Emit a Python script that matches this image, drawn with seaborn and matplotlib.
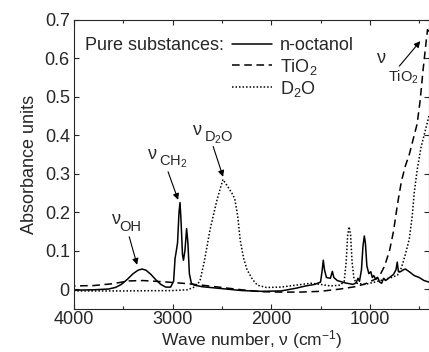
import seaborn as sns
from matplotlib import pyplot as plt
from matplotlib.ticker import FixedLocator, FixedFormatter
import pandas as pd

# Spectra (wave number in cm-1, absorbance)
oct_wn = [4000, 3800, 3650, 3580, 3520, 3460, 3400, 3350, 3310, 3270, 3220, 3170, 3120,
          3070, 3020, 2990, 2975, 2965, 2950, 2935, 2925, 2915, 2900, 2890, 2875, 2858,
          2845, 2830, 2810, 2780, 2700, 2500, 2300, 2100, 1900, 1750, 1650, 1560, 1500,
          1485, 1472, 1460, 1440, 1400, 1380, 1365, 1330, 1250, 1170, 1140, 1120, 1105,
          1085, 1070, 1056, 1045, 1030, 1010, 990, 975, 960, 940, 920, 900, 880, 860,
          840, 800, 760, 735, 722, 710, 690, 660, 640, 600, 550, 500, 450, 400]
oct_abs = [-0.003, -0.002, 0.0, 0.004, 0.012, 0.025, 0.040, 0.049, 0.052, 0.049, 0.038,
           0.024, 0.012, 0.005, 0.005, 0.02, 0.08, 0.095, 0.12, 0.20, 0.225, 0.18, 0.09,
           0.075, 0.10, 0.157, 0.12, 0.04, 0.015, 0.01, 0.006, 0.001, -0.004, -0.006,
           -0.005, 0.002, 0.008, 0.012, 0.018, 0.045, 0.075, 0.05, 0.03, 0.028, 0.046,
           0.03, 0.022, 0.016, 0.012, 0.016, 0.028, 0.02, 0.05, 0.11, 0.138, 0.12, 0.06,
           0.04, 0.045, 0.03, 0.035, 0.025, 0.03, 0.018, 0.015, 0.028, 0.022, 0.03,
           0.038, 0.05, 0.07, 0.045, 0.045, 0.05, 0.052, 0.045, 0.035, 0.03, 0.022, 0.018]

tio2_wn = [4000, 3800, 3600, 3450, 3300, 3100, 2900, 2700, 2500, 2300, 2100, 1900, 1700,
           1500, 1300, 1150, 1050, 950, 900, 850, 800, 760, 720, 680, 640, 600, 560, 520,
           490, 460, 435, 415, 400]
tio2_abs = [0.008, 0.009, 0.014, 0.021, 0.022, 0.019, 0.015, 0.01, 0.004, -0.002, -0.007,
            -0.008, -0.008, -0.006, 0.0, 0.006, 0.013, 0.025, 0.035, 0.06, 0.10, 0.15,
            0.22, 0.28, 0.32, 0.35, 0.39, 0.43, 0.49, 0.57, 0.63, 0.675, 0.67]

d2o_wn = [4000, 3500, 3000, 2850, 2780, 2740, 2720, 2680, 2620, 2550, 2490, 2450, 2400,
          2370, 2340, 2315, 2280, 2245, 2190, 2140, 2050, 1900, 1750, 1600, 1500, 1400,
          1300, 1260, 1240, 1225, 1210, 1195, 1180, 1160, 1130, 1050, 950, 850, 780, 720,
          680, 640, 600, 570, 550, 520, 480, 440, 400]
d2o_abs = [-0.005, -0.005, -0.004, -0.002, 0.005, 0.015, 0.024, 0.07, 0.155, 0.232, 0.285,
           0.27, 0.25, 0.235, 0.19, 0.128, 0.08, 0.05, 0.025, 0.01, 0.004, 0.005, 0.01,
           0.015, 0.012, 0.008, 0.01, 0.02, 0.07, 0.14, 0.162, 0.14, 0.07, 0.025, 0.015,
           0.012, 0.018, 0.025, 0.03, 0.036, 0.055, 0.09, 0.13, 0.19, 0.25, 0.31, 0.37,
           0.41, 0.45]

y_ticks = [0, 0.1, 0.2, 0.3, 0.4, 0.5, 0.6, 0.7]
y_labels = ["0", "0.1", "0.2", "0.3", "0.4", "0.5", "0.6", "0.7"]

# band labels: subscript, nu position, subscript position, arrow start, arrow tip
bands = [
    ("OH", (3614, 0.170), (3540, 0.151), (3440, 0.136), (3360, 0.063)),
    ("CH$_2$", (3249, 0.339), (3140, 0.321), (3046, 0.305), (2944, 0.232)),
    ("D$_2$O", (2792, 0.401), (2685, 0.384), (2589, 0.371), (2488, 0.292)),
    ("TiO$_2$", (925, 0.587), (820, 0.540), (701, 0.580), (488, 0.645)),
]

FS = 13

sns.set_style("ticks")
plt.rcParams['font.family'] = ['Liberation Sans', 'DejaVu Sans']
plt.rcParams['mathtext.fontset'] = 'custom'
plt.rcParams['mathtext.rm'] = 'Liberation Sans'
plt.rcParams['mathtext.it'] = 'Liberation Sans'
plt.rcParams['font.size'] = FS

fig = plt.figure(figsize=(4.29, 3.52), dpi=100)
ax = fig.add_axes([74 / 429, 1 - 309 / 352, 1 - 74 / 429, (309 - 20) / 352])

df_oct = pd.DataFrame({"wn": oct_wn, "A": oct_abs})
df_tio2 = pd.DataFrame({"wn": tio2_wn, "A": tio2_abs})
df_d2o = pd.DataFrame({"wn": d2o_wn, "A": d2o_abs})

sns.lineplot(data=df_oct, x="wn", y="A", ax=ax, color="black", lw=1.1,
             estimator=None, label="n-octanol")
sns.lineplot(data=df_tio2, x="wn", y="A", ax=ax, color="black", lw=1.1,
             estimator=None, label="TiO$_2$")
sns.lineplot(data=df_d2o, x="wn", y="A", ax=ax, color="black", lw=1.1,
             estimator=None, label="D$_2$O")
ax.lines[1].set_dashes((5, 3))
ax.lines[2].set_dashes((1, 1.3))

ax.set_xlim(4000, 400)
ax.set_ylim(-0.052, 0.7)
ax.xaxis.set_major_locator(FixedLocator([4000, 3000, 2000, 1000]))
ax.xaxis.set_minor_locator(FixedLocator([3500, 2500, 1500, 500]))
ax.yaxis.set_major_locator(FixedLocator(y_ticks))
ax.yaxis.set_major_formatter(FixedFormatter(y_labels))
ax.tick_params(which="both", direction="in", top=True, right=True, width=0.8,
               labelsize=FS)
ax.tick_params(axis="y", pad=3)
ax.tick_params(axis="x", pad=1.5)
ax.tick_params(which="major", length=3.5)
ax.tick_params(which="minor", length=2)
for s in ax.spines.values():
    s.set_linewidth(0.8)

ax.set_xlabel("Wave number, ν (cm$^{-1}$)", fontsize=12.5, labelpad=0)
ax.set_ylabel("Absorbance units", fontsize=FS, labelpad=5)

leg = ax.legend(loc="upper left", bbox_to_anchor=(0.425, 0.965), frameon=False,
                handlelength=2.2, handletextpad=0.45, labelspacing=0.12,
                fontsize=FS, borderaxespad=0)
ax.text(0.031, 0.913, "Pure substances:", transform=ax.transAxes, fontsize=FS,
        va="center", ha="left")

arrow = dict(arrowstyle="-|>", color="black", lw=0.8, mutation_scale=9,
             shrinkA=0, shrinkB=0)
for sub, nu_pos, sub_pos, a_from, a_to in bands:
    ax.text(nu_pos[0], nu_pos[1], "ν", fontsize=FS, ha="left", va="baseline")
    ax.text(sub_pos[0], sub_pos[1], sub, fontsize=10.5, ha="left", va="baseline")
    ax.annotate("", xy=a_to, xytext=a_from, arrowprops=arrow)

plt.savefig("out.png", dpi=100)
